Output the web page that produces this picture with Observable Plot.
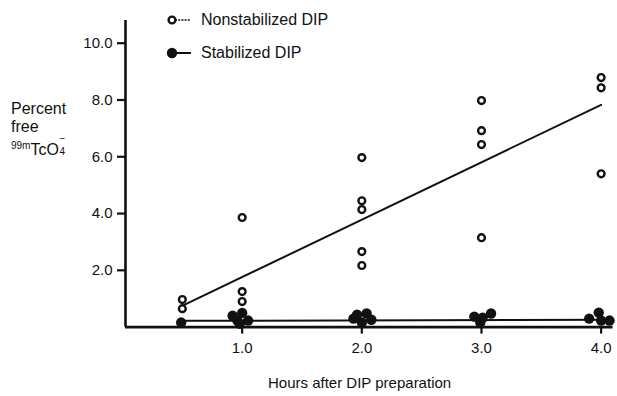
<!DOCTYPE html>
<html>
<head>
<meta charset="utf-8">
<script src="https://cdn.jsdelivr.net/npm/d3@7"></script>
<script src="https://cdn.jsdelivr.net/npm/@observablehq/plot@0.6"></script>
<style>
  body { margin: 0; background: #fff; }
  #wrap { position: relative; width: 617px; height: 396px; font-family: "Liberation Sans", Arial, sans-serif; color: #111; }
  #wrap svg.plot { position: absolute; left: 0; top: 0; }
  .lbl { position: absolute; font-size: 15px; line-height: 17px; white-space: nowrap; }
  .yl { position: absolute; left: 11px; font-size: 16px; line-height: 16px; white-space: nowrap; }
  .leg { position: absolute; left: 164px; font-size: 16px; white-space: nowrap; display: flex; align-items: center; }
  .leg svg { margin-right: 9px; }
  .stk { position: absolute; left: 0.5px; font-size: 10px; line-height: 8px; height: 8px; }
</style>
</head>
<body>
<div id="wrap"></div>
<script>
// Nonstabilized DIP (open circles)
const nonHours  = [0.5, 0.5, 1, 1, 1, 2, 2, 2, 2, 2, 3, 3, 3, 3, 4, 4, 4];
const nonValues = [0.97, 0.65, 3.86, 1.25, 0.90, 5.97, 4.45, 4.14, 2.66, 2.17, 7.98, 6.92, 6.43, 3.15, 8.79, 8.43, 5.40];
// Stabilized DIP (filled circles)
const stabHours  = [0.49, 0.92, 1.0, 1.05, 0.96, 0.98, 1.93, 1.96, 2.04, 2.08, 2.0, 2.94, 3.01, 3.08, 2.99, 3.98, 3.9, 4.0, 4.07];
const stabValues = [0.16, 0.40, 0.50, 0.23, 0.23, 0.12, 0.30, 0.44, 0.48, 0.26, 0.16, 0.37, 0.33, 0.48, 0.16, 0.51, 0.30, 0.23, 0.23];
// Fitted lines
const nonFitHours = [0.52, 4.0];
const nonFitValues = [0.79, 7.83];
const stabFitHours = [0.5, 4.1];
const stabFitValues = [0.22, 0.26];
// Axes
const xDomain = [0.025, 4.1];
const yDomain = [0, 10.8];
const xTicks = [1, 2, 3, 4];
const yTicks = [2, 4, 6, 8, 10];
const seriesLabels = ["Nonstabilized DIP", "Stabilized DIP"];
const xLabel = "Hours after DIP preparation";

const nonData = nonHours.map((h, i) => ({h, v: nonValues[i]}));
const stabData = stabHours.map((h, i) => ({h, v: stabValues[i]}));
const nonFit = nonFitHours.map((h, i) => ({h, v: nonFitValues[i]}));
const stabFit = stabFitHours.map((h, i) => ({h, v: stabFitValues[i]}));
const fmt = d3.format(".1f");

const chart = Plot.plot({
  width: 617,
  height: 396,
  marginLeft: 125,
  marginRight: 4.4,
  marginTop: 20,
  marginBottom: 69.4,
  style: {fontFamily: "'Liberation Sans', Arial, sans-serif", fontSize: "15px", color: "#111", background: "transparent"},
  x: {domain: xDomain},
  y: {domain: yDomain},
  marks: [
    Plot.axisX({ticks: xTicks, tickSize: 7, tickPadding: 8, tickFormat: fmt, label: null, strokeWidth: 2.2}),
    Plot.axisY({ticks: yTicks, tickSize: 8, tickPadding: 5, tickFormat: fmt, label: null, strokeWidth: 2.2}),
    Plot.ruleY([yDomain[0]], {stroke: "#111", strokeWidth: 2.6}),
    Plot.ruleX([xDomain[0]], {stroke: "#111", strokeWidth: 2.6}),
    Plot.line(stabFit, {x: "h", y: "v", stroke: "#111", strokeWidth: 2}),
    Plot.line(nonFit, {x: "h", y: "v", stroke: "#111", strokeWidth: 2}),
    Plot.dot(stabData, {x: "h", y: "v", r: 5.2, fill: "#111", stroke: "none"}),
    Plot.dot(nonData, {x: "h", y: "v", r: 3.4, fill: "white", stroke: "#111", strokeWidth: 2.4})
  ]
});
chart.classList.add("plot");
const wrap = document.getElementById("wrap");
wrap.appendChild(chart);

// Legend
const leg1 = document.createElement("div");
leg1.className = "leg"; leg1.style.top = "11px";
leg1.innerHTML = `<svg width="28" height="18"><line x1="11" y1="9" x2="27" y2="9" stroke="#111" stroke-width="1.6" stroke-dasharray="2,1.2"/><circle cx="8" cy="9" r="3.4" fill="white" stroke="#111" stroke-width="2.4"/></svg><span>${seriesLabels[0]}</span>`;
wrap.appendChild(leg1);
const leg2 = document.createElement("div");
leg2.className = "leg"; leg2.style.top = "44px";
leg2.innerHTML = `<svg width="28" height="18"><line x1="11" y1="9" x2="27" y2="9" stroke="#111" stroke-width="2"/><circle cx="8" cy="9" r="5.2" fill="#111"/></svg><span>${seriesLabels[1]}</span>`;
wrap.appendChild(leg2);

// Y label (three separate lines)
const yLines = [
  {top: 101, html: "Percent"},
  {top: 119, html: "free"},
  {top: 138, html: `<span style="font-size:10px;vertical-align:6px">99m</span>TcO<span style="display:inline-block;position:relative;width:7px;height:16px;vertical-align:top"><span class="stk" style="top:-3px">&minus;</span><span class="stk" style="top:10px">4</span></span>`}
];
yLines.forEach(l => {
  const d = document.createElement("div");
  d.className = "yl"; d.style.top = l.top + "px";
  d.innerHTML = l.html;
  wrap.appendChild(d);
});

// X label
const xl = document.createElement("div");
xl.className = "lbl"; xl.style.left = "268px"; xl.style.top = "374px";
xl.textContent = xLabel;
wrap.appendChild(xl);
</script>
</body>
</html>
